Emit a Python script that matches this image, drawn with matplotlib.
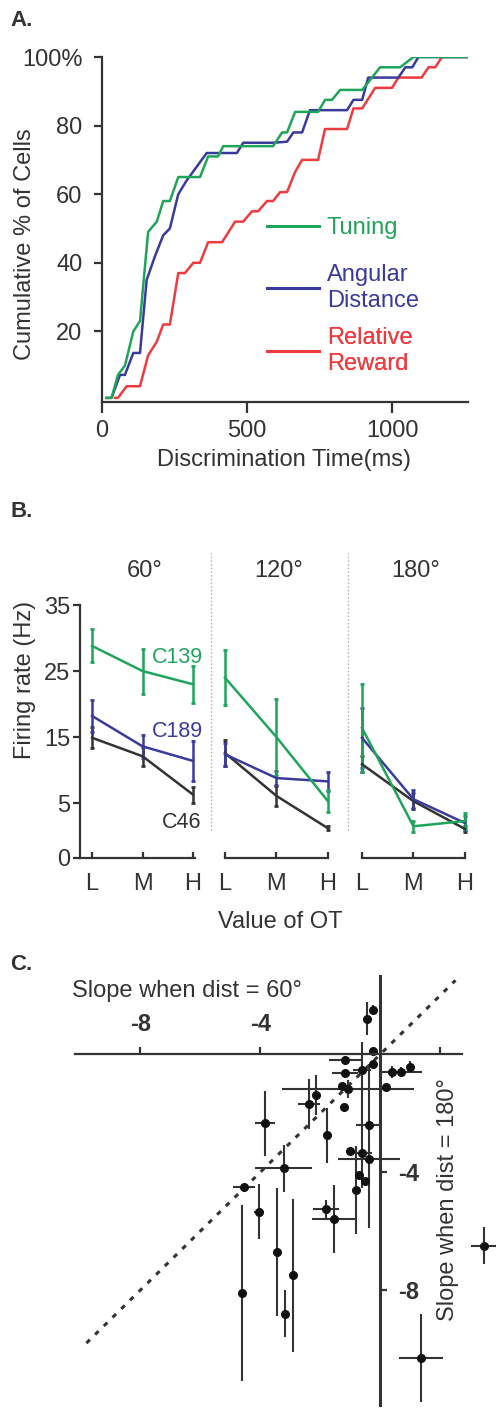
import matplotlib
matplotlib.use("Agg")
import matplotlib.pyplot as plt
import matplotlib.transforms as mtransforms
from matplotlib.lines import Line2D
import numpy as np

plt.rcParams['font.family'] = ['Liberation Sans', 'DejaVu Sans']

W, H = 496, 1421
TXT = '#333333'
GREEN = '#1fa55a'
BLUE = '#3a3a9c'
RED = '#ef3b3f'
BLACK = '#333333'
FS = 17

# ---------------- panel A data: cumulative % of cells vs discrimination time
tuning_t = [16, 33, 55, 79, 108, 131, 159, 189, 211, 234, 263, 338, 366, 400, 418, 590, 621, 638,
            666, 745, 769, 793, 821, 897, 931, 959, 1028, 1074, 1262]
tuning_p = [0.6, 0.6, 7.3, 10, 20, 23, 49, 52, 58, 58, 65, 65, 71, 71, 74, 74, 78, 78,
            84, 84, 87.5, 87.5, 90.4, 90.4, 94, 97, 97, 100, 100]
angular_t = [16, 33, 62, 79, 108, 131, 154, 183, 211, 234, 263, 292, 361, 465, 487, 590, 638, 660,
             690, 717, 845, 867, 897, 918, 1022, 1046, 1070, 1091, 1262]
angular_p = [0.6, 0.6, 7.3, 7.3, 13.7, 13.7, 35, 42, 48, 50, 60, 64, 72, 72, 75, 75, 75.3, 78,
             78, 84.5, 84.5, 87.5, 87.5, 94, 94, 97, 97, 100, 100]
reward_t = [45, 55, 85, 131, 159, 189, 211, 234, 263, 286, 315, 338, 366, 414, 459, 487, 517, 538,
            569, 590, 614, 638, 666, 690, 745, 769, 845, 867, 897, 942, 1000, 1022, 1102, 1126,
            1149, 1172, 1262]
reward_p = [0.6, 0.6, 4, 4, 13, 17, 22, 22, 37, 37, 40, 40, 46, 46, 52, 52, 55, 55,
            58, 58, 60.6, 60.6, 66.5, 70, 70, 79, 79, 85, 85, 91, 91, 94, 94, 97,
            97, 100, 100]

# ---------------- panel B data: firing rate for L/M/H value of OT, per distance
levels = ['L', 'M', 'H']
distances = ['60°', '120°', '180°']
c139_rate = [[28.8, 25.0, 23.0], [24.0, 15.0, 5.3], [16.4, 1.5, 2.3]]
c139_err = [[2.5, 3.4, 2.8], [4.2, 5.7, 1.7], [6.7, 0.8, 1.2]]
c189_rate = [[18.2, 13.6, 11.4], [12.4, 8.8, 8.3], [14.9, 5.6, 2.0]]
c189_err = [[2.4, 1.7, 3.0], [1.7, 1.0, 1.4], [4.5, 1.4, 1.0]]
c46_rate = [[14.9, 12.1, 6.3], [12.6, 6.1, 1.2], [10.9, 5.3, 1.1]]
c46_err = [[1.6, 1.4, 1.2], [1.9, 1.5, 0.3], [1.2, 1.2, 0.4]]

# ---------------- panel C data: slope at 60 deg vs slope at 180 deg
slope60 = [-0.46, -0.24, -0.26, -1.18, -0.25, -1.18, -0.6, 0.37, 0.7, 0.98, -1.29, -1.08, 0.2,
           -2.15, -2.38, -1.22, -1.79, -0.38, -3.84, -1.02, -0.63, -0.38, -3.22, -0.72, -0.5,
           -0.82, -4.55, -4.06, -1.82, -1.55, -3.46, -2.9, -3.18, -4.6, 3.46, 1.34]
slope180 = [1.2, 1.5, 0.1, -0.2, -0.35, -0.65, -0.55, -0.6, -0.6, -0.45, -1.08, -1.19, -1.12,
            -1.38, -1.7, -1.8, -2.75, -2.4, -2.35, -3.3, -3.35, -3.55, -3.87, -4.1, -4.3,
            -4.6, -4.5, -5.35, -5.25, -5.6, -6.7, -7.5, -8.8, -8.1, -6.5, -10.3]
err60 = [0, 0.1, 0, 0.53, 0, 0.42, 0.3, 0, 0.67, 0, 0, 2.2, 0,
         0, 0.37, 0, 0, 0.42, 0.33, 0, 0.35, 1.03, 0.95, 0, 0,
         0, 0.37, 0.15, 0.43, 0.72, 0, 0, 0, 0, 0.45, 0.73]
err180_lo = [0.55, 0.15, 0, 0.15, 0, 0.1, 4.0, 0.2, 0.15, 0.2, 0, 0.3, 0,
             0.68, 0.85, 0, 0.93, 3.5, 1.1, 0, 0, 0, 0.8, 0, 0,
             1.5, 0, 0.93, 0.3, 1.15, 2.17, 2.6, 0.8, 3.0, 0.63, 1.5]
err180_hi = [0.55, 0.15, 0, 0.15, 0, 0.1, 0.95, 0.2, 0.15, 0.2, 0, 0.3, 0,
             0.68, 0.85, 0, 0.93, 2.06, 1.1, 0, 0, 0, 0.8, 0, 0,
             1.5, 0, 0.93, 0.3, 1.15, 2.17, 2.6, 0.8, 3.0, 0.63, 1.5]
diag = [-9.8, 2.5]


def rect(left, top, right, bottom):
    return [left / W, 1 - bottom / H, (right - left) / W, (bottom - top) / H]


fig = plt.figure(figsize=(W / 100, H / 100), dpi=100)

# ================= Panel A =================
axA = fig.add_axes(rect(102, 57, 468, 402))
axA.plot(reward_t, reward_p, color=RED, lw=1.8)
axA.plot(angular_t, angular_p, color=BLUE, lw=1.8)
axA.plot(tuning_t, tuning_p, color=GREEN, lw=1.8)
axA.set_xlim(0, 1262)
axA.set_ylim(-0.6, 100)
axA.set_yticks([20, 40, 60, 80, 100])
axA.set_yticklabels(['20', '40', '60', '80', '100%'])
axA.set_xticks([0, 500, 1000])
for s in ['top', 'right']:
    axA.spines[s].set_visible(False)
for s in ['left', 'bottom']:
    axA.spines[s].set_color(TXT)
    axA.spines[s].set_linewidth(1.6)
axA.tick_params(axis='y', length=6, width=1.6, color=TXT, labelcolor=TXT, labelsize=FS, pad=8)
axA.tick_params(axis='x', length=8, width=1.6, color=TXT, labelcolor=TXT, labelsize=FS, pad=5)
fig.text(25 / W, 1 - 244 / H, 'Cumulative % of Cells', rotation=90, ha='center', va='center',
         fontsize=FS, color=TXT)
fig.text(284 / W, 1 - 460 / H, 'Discrimination Time(ms)', ha='center', va='center',
         fontsize=FS, color=TXT)

for lab, col, yy in [('Tuning', GREEN, 0.504), ('Angular\nDistance', BLUE, 0.330),
                     ('Relative\nReward', RED, 0.148)]:
    lg = axA.legend(handles=[Line2D([], [], color=col, lw=2.2)], labels=[lab],
                    loc='center left', bbox_to_anchor=(0.45, yy), frameon=False,
                    handlelength=2.2, handletextpad=0.35, borderpad=0, borderaxespad=0,
                    fontsize=FS, labelcolor=col)
    axA.add_artist(lg)

fig.text(10 / W, 1 - 21 / H, 'A.', fontsize=16, fontweight='bold', color=TXT, va='center')

# ================= Panel B =================
b_rects = [rect(80, 605, 195, 858), rect(212.6, 605, 330, 858), rect(349.6, 605, 467, 858)]
xs = np.arange(len(levels))
for i, r in enumerate(b_rects):
    ax = fig.add_axes(r)
    for rate, err, col in [(c46_rate, c46_err, BLACK), (c189_rate, c189_err, BLUE),
                           (c139_rate, c139_err, GREEN)]:
        ax.errorbar(xs, rate[i], yerr=err[i], color=col, lw=1.8, elinewidth=1.8,
                    capsize=1.5, capthick=2)
    ax.set_xlim(-0.24, 2.04)
    ax.set_ylim(-3.3, 35)
    ax.set_xticks(xs)
    ax.set_xticklabels(levels)
    for s in ['top', 'right']:
        ax.spines[s].set_visible(False)
    ax.spines['bottom'].set_color(TXT)
    ax.spines['bottom'].set_linewidth(1.6)
    ax.spines['left'].set_color(TXT)
    ax.spines['left'].set_linewidth(1.6)
    ax.tick_params(axis='x', direction='in', length=4, width=1.6, color=TXT,
                   labelcolor=TXT, labelsize=FS, pad=11)
    if i == 0:
        ax.set_yticks([-3.3, 5, 15, 25, 35])
        ax.set_yticklabels(['0', '5', '15', '25', '35'])
        ax.tick_params(axis='y', length=5, width=1.6, color=TXT, labelcolor=TXT,
                       labelsize=FS, pad=2)
        ax.text(1.19, 27, 'C139', color=GREEN, fontsize=15.5, va='center')
        ax.text(1.19, 15.8, 'C189', color=BLUE, fontsize=15.5, va='center')
        ax.text(1.39, 2.1, 'C46', color=BLACK, fontsize=15.5, va='center')
    else:
        ax.spines['left'].set_visible(False)
        ax.spines['bottom'].set_bounds(0, 2)
        ax.set_yticks([])
        ax.axvline(-0.27, ymin=0.11, ymax=1.206, color='#aaaaaa', lw=1, ls=':', clip_on=False)
    trans = mtransforms.blended_transform_factory(ax.transData, ax.transAxes)
    ax.text(1.05, 1.134, distances[i], transform=trans, ha='center', va='center',
            fontsize=FS, color=TXT)

fig.text(25 / W, 1 - 680 / H, 'Firing rate (Hz)', rotation=90, ha='center', va='center',
         fontsize=FS, color=TXT)
fig.text(280 / W, 1 - 922 / H, 'Value of OT', ha='center', va='center', fontsize=FS, color=TXT)
fig.text(10 / W, 1 - 512 / H, 'B.', fontsize=16, fontweight='bold', color=TXT, va='center')

# ================= Panel C =================
axC = fig.add_axes(rect(60, 960, 496, 1421))
axC.plot(diag, diag, color=TXT, lw=2.2, dashes=(1.6, 2.4))
axC.errorbar(slope60, slope180, xerr=err60, yerr=[err180_lo, err180_hi], fmt='o', ms=5.5,
             color='#111111', ecolor='#333333', elinewidth=1.5, capsize=0)
axC.set_xlim(-10.68, 3.85)
axC.set_ylim(-12.44, 3.19)
axC.spines['left'].set_visible(False)
axC.spines['bottom'].set_visible(False)
axC.spines['top'].set_position(('data', 0))
axC.spines['top'].set_bounds(-10.18, 2.72)
axC.spines['right'].set_position(('data', 0))
axC.spines['right'].set_bounds(-11.9, 2.64)
axC.spines['top'].set_linewidth(1.6)
axC.spines['right'].set_linewidth(2.2)
axC.spines['top'].set_color(TXT)
axC.spines['right'].set_color(TXT)
axC.xaxis.tick_top()
axC.yaxis.tick_right()
axC.set_xticks([-8, -4, 2])
axC.set_xticklabels(['-8', '-4', ''], fontweight='bold')
axC.set_yticks([-8, -4])
axC.set_yticklabels(['-8', '-4'], fontweight='bold')
axC.tick_params(axis='x', length=5, width=1.6, color=TXT, labelcolor=TXT, labelsize=FS, pad=8)
axC.tick_params(axis='y', length=5, width=1.6, color=TXT, labelcolor=TXT, labelsize=FS, pad=8)
fig.text(72 / W, 1 - 991 / H, 'Slope when dist = 60°', ha='left', va='center', fontsize=FS,
         color=TXT)
fig.text(448 / W, 1 - 1200 / H, 'Slope when dist = 180°', rotation=90, ha='center',
         va='center', fontsize=FS, color=TXT)
fig.text(10 / W, 1 - 965 / H, 'C.', fontsize=16, fontweight='bold', color=TXT, va='center')

fig.savefig('out.png', dpi=100)
